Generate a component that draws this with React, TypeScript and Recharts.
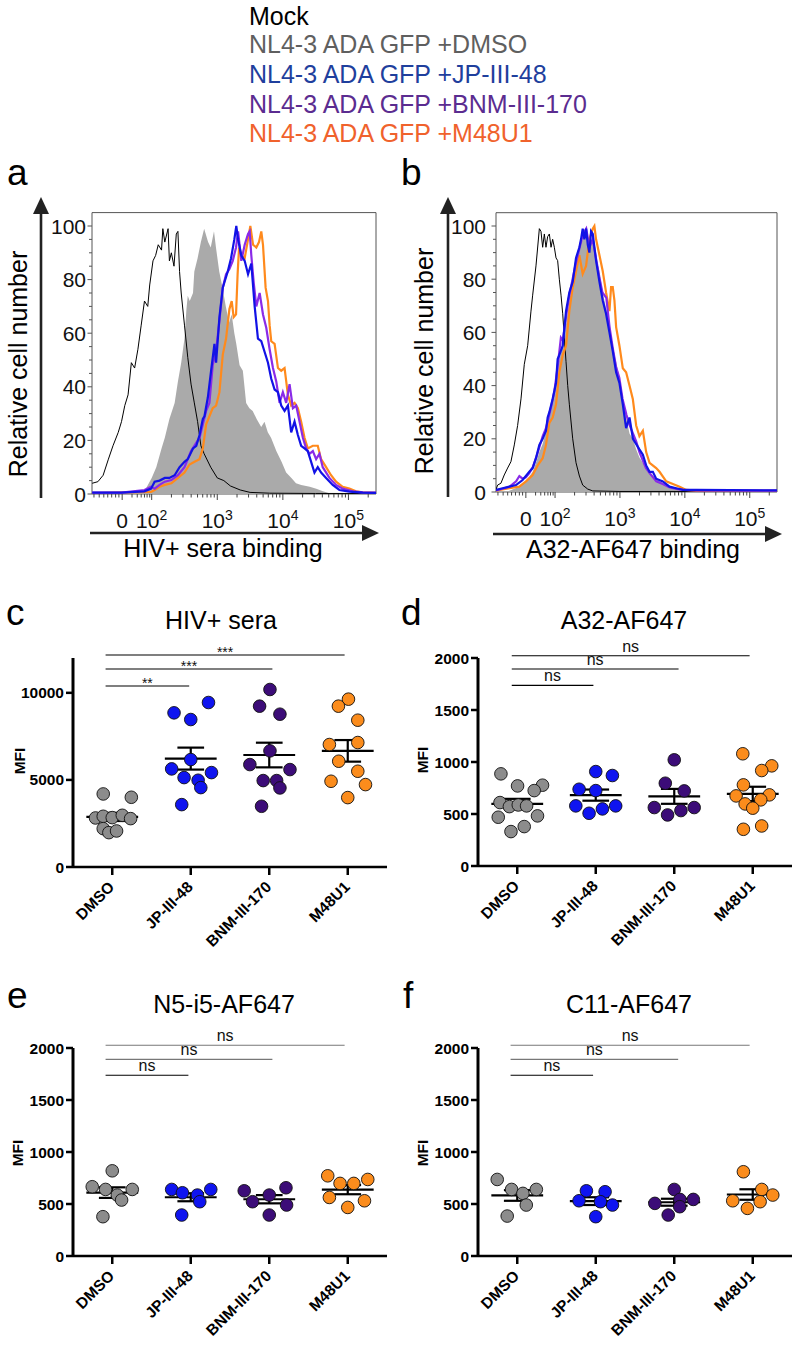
import React from 'react';
import {
  ComposedChart, Line, Area, XAxis, YAxis, ReferenceArea,
  ScatterChart, Scatter, ReferenceLine,
} from 'recharts';

const FONT = "'Liberation Sans', Arial, Helvetica, sans-serif";
type P = [number, number];

// ---------- legend ----------
const legendLabels = ['Mock', 'NL4-3 ADA GFP +DMSO', 'NL4-3 ADA GFP +JP-III-48', 'NL4-3 ADA GFP +BNM-III-170', 'NL4-3 ADA GFP +M48U1'];
const legendColors = ['#000000', '#5f5f5f', '#1f3f9d', '#5b2c90', '#f0622c'];

// ---------- histogram axes (biexponential display channel) ----------
const histYTicks = [0, 5, 10, 15, 20, 25, 30, 35, 40, 45, 50, 55, 60, 65, 70, 75, 80, 85, 90, 95, 100];
const histXMajor = [1.55, 2, 3, 4, 5];
const histXLabelBase = ['0', '10', '10', '10', '10'];
const histXLabelExp = ['', '2', '3', '4', '5'];
const histXMinor = [1.12, 1.2, 1.27, 1.33, 1.39, 1.45, 1.5, 1.7, 1.78, 1.84, 1.89, 1.93, 1.97,
  2.301, 2.477, 2.602, 2.699, 2.778, 2.845, 2.903, 2.954,
  3.301, 3.477, 3.602, 3.699, 3.778, 3.845, 3.903, 3.954,
  4.301, 4.477, 4.602, 4.699, 4.778, 4.845, 4.903, 4.954, 5.301];
const histDomain: [number, number] = [1.09, 5.42];

// ---------- panel a : HIV+ sera binding (x = display channel, v = % max) ----------
const mockA: P[] = [[1.093, 4], [1.18, 4.6], [1.26, 7], [1.34, 13], [1.41, 18], [1.49, 23], [1.54, 27], [1.59, 33], [1.64, 37], [1.69, 49], [1.74, 47], [1.79, 54], [1.84, 63], [1.89, 72], [1.94, 70], [1.97, 78], [2.02, 87], [2.06, 89], [2.1, 93], [2.15, 91], [2.17, 99], [2.2, 94], [2.25, 99], [2.27, 87], [2.3, 90], [2.34, 85], [2.375, 97], [2.4, 98], [2.425, 83], [2.45, 75], [2.5, 63], [2.55, 51], [2.6, 41], [2.65, 34], [2.7, 27], [2.75, 18], [2.8, 15], [2.9, 10], [3.0, 6], [3.1, 5], [3.2, 3], [3.35, 1.5], [3.5, 0.6], [3.8, 0.3], [4.5, 0.2], [5.42, 0.2]];
const dmsoA: P[] = [[1.09, 0], [1.75, 0], [1.85, 0.5], [1.9, 1.5], [2.0, 6], [2.07, 10], [2.15, 17], [2.2, 21], [2.27, 28], [2.35, 34], [2.4, 42], [2.45, 49], [2.5, 58], [2.53, 69], [2.55, 74], [2.58, 72], [2.63, 75], [2.65, 83], [2.7, 88], [2.75, 94], [2.8, 99], [2.86, 94], [2.9, 92], [2.95, 98], [2.98, 92], [3.03, 83], [3.08, 77], [3.13, 70], [3.18, 64], [3.22, 67], [3.26, 60], [3.29, 56], [3.34, 48], [3.39, 46], [3.44, 34], [3.49, 32], [3.54, 31], [3.6, 28], [3.67, 25], [3.72, 27], [3.77, 23], [3.82, 21], [3.9, 16], [3.98, 12], [4.05, 8], [4.13, 6], [4.2, 4], [4.28, 3.4], [4.41, 2.7], [4.51, 2], [4.61, 1], [4.71, 0.3], [5.0, 0], [5.42, 0]];
const jpA: P[] = [[1.093, 0.5], [1.54, 0.5], [1.89, 1], [1.99, 2], [2.045, 4.6], [2.12, 5], [2.2, 6], [2.27, 6], [2.35, 7], [2.425, 10], [2.5, 12], [2.55, 13], [2.63, 17], [2.68, 18], [2.73, 22], [2.78, 28], [2.805, 29], [2.856, 36], [2.906, 46], [2.957, 56], [2.982, 49], [3.033, 66], [3.084, 77], [3.109, 79], [3.16, 83], [3.21, 88], [3.26, 95], [3.29, 100], [3.317, 95], [3.367, 89], [3.418, 87], [3.469, 82], [3.519, 86], [3.57, 70], [3.62, 58], [3.671, 57], [3.722, 53], [3.773, 49], [3.823, 43], [3.874, 39], [3.925, 38], [3.975, 33], [4.026, 31], [4.077, 33], [4.127, 23], [4.178, 27], [4.229, 22], [4.279, 18], [4.33, 17], [4.38, 16], [4.431, 12], [4.482, 8], [4.532, 10], [4.583, 8], [4.659, 6], [4.76, 3.4], [4.862, 1.5], [5.014, 0.9], [5.216, 0.5], [5.42, 0.4]];
const bnmA: P[] = [[1.093, 0.5], [1.54, 0.5], [1.89, 1.5], [1.99, 2.7], [2.045, 2], [2.12, 3.4], [2.2, 4.6], [2.3, 5.2], [2.4, 7], [2.5, 10], [2.55, 13], [2.6, 16], [2.65, 18], [2.73, 21], [2.78, 26], [2.83, 31], [2.88, 34], [2.93, 48], [2.98, 53], [3.03, 64], [3.084, 77], [3.134, 82], [3.185, 84], [3.236, 87], [3.286, 92], [3.317, 98], [3.367, 87], [3.418, 93], [3.469, 97], [3.494, 98], [3.519, 89], [3.555, 79], [3.595, 70], [3.646, 75], [3.697, 67], [3.747, 62], [3.798, 54], [3.849, 47], [3.899, 42], [3.95, 34], [4.0, 38], [4.051, 34], [4.102, 41], [4.153, 32], [4.203, 33], [4.254, 27], [4.305, 21], [4.355, 17], [4.406, 15], [4.457, 16], [4.507, 13], [4.558, 15], [4.608, 10], [4.71, 6], [4.811, 3.4], [4.912, 2], [5.064, 1], [5.216, 0.6], [5.42, 0.5]];
const m48A: P[] = [[1.093, 0.3], [1.99, 0.8], [2.045, 1.5], [2.12, 2.7], [2.2, 3.4], [2.3, 4], [2.4, 6], [2.5, 8], [2.577, 11], [2.653, 12], [2.729, 13], [2.78, 17], [2.83, 26], [2.88, 29], [2.93, 32], [2.982, 33], [3.033, 38], [3.084, 52], [3.134, 58], [3.185, 69], [3.22, 72], [3.25, 66], [3.286, 67], [3.31, 82], [3.332, 92], [3.367, 89], [3.418, 88], [3.469, 95], [3.504, 100], [3.545, 93], [3.595, 92], [3.636, 94], [3.671, 98], [3.697, 93], [3.737, 77], [3.773, 72], [3.798, 63], [3.823, 57], [3.874, 56], [3.925, 47], [3.975, 46], [4.026, 47], [4.077, 37], [4.127, 33], [4.178, 34], [4.229, 32], [4.279, 27], [4.33, 21], [4.38, 17], [4.457, 18], [4.532, 18], [4.583, 13], [4.659, 10], [4.735, 7], [4.811, 4.6], [4.912, 2.7], [5.014, 2], [5.115, 1], [5.216, 0.6], [5.42, 0.4]];

// ---------- panel b : A32-AF647 binding ----------
const mockB: P[] = [[1.089, 0.8], [1.115, 2.6], [1.166, 3.3], [1.217, 6.4], [1.269, 9], [1.32, 11.4], [1.372, 17.7], [1.423, 25], [1.475, 35], [1.526, 48], [1.578, 55], [1.629, 68], [1.655, 74], [1.706, 85], [1.758, 99], [1.783, 98], [1.809, 92], [1.835, 97], [1.86, 92], [1.886, 96], [1.912, 97], [1.938, 92], [1.963, 95], [1.989, 92], [2.015, 88], [2.04, 87], [2.066, 80], [2.092, 74], [2.118, 67], [2.143, 58], [2.169, 49], [2.195, 40], [2.22, 33], [2.272, 20], [2.323, 11], [2.375, 6], [2.426, 2.6], [2.503, 1.1], [2.581, 0.4], [3.0, 0.2], [5.42, 0.2]];
const dmsoB: P[] = [[1.09, 0], [1.25, 0], [1.295, 0.5], [1.449, 2], [1.552, 4], [1.655, 7.6], [1.706, 11], [1.758, 15], [1.809, 18], [1.86, 23], [1.912, 30], [1.963, 35], [2.015, 41], [2.066, 50], [2.118, 55], [2.169, 63], [2.22, 72], [2.272, 79], [2.323, 87], [2.375, 92], [2.426, 95], [2.478, 99], [2.529, 93], [2.581, 95], [2.632, 88], [2.684, 83], [2.735, 75], [2.786, 69], [2.838, 64], [2.889, 55], [2.941, 49], [2.992, 43], [3.044, 35], [3.095, 28], [3.147, 22], [3.198, 20], [3.25, 16], [3.3, 13], [3.353, 11], [3.456, 7.6], [3.558, 5], [3.661, 3.3], [3.764, 2], [3.867, 1.1], [3.97, 0.5], [4.073, 0.1], [4.2, 0], [5.42, 0]];
const jpB: P[] = [[1.089, 0.8], [1.192, 1.4], [1.295, 2], [1.398, 2.6], [1.5, 4.5], [1.603, 7.6], [1.655, 9], [1.706, 12.7], [1.758, 17.7], [1.809, 20], [1.86, 23], [1.886, 28], [1.912, 30], [1.963, 35], [2.015, 41], [2.04, 50], [2.066, 51.5], [2.118, 55], [2.169, 68], [2.22, 75], [2.272, 79], [2.323, 88], [2.375, 92], [2.4, 95], [2.426, 99], [2.452, 95], [2.478, 99], [2.504, 93], [2.529, 90], [2.555, 98], [2.581, 97], [2.632, 87], [2.684, 79], [2.735, 72], [2.786, 67], [2.838, 60], [2.889, 53], [2.941, 45], [2.992, 41], [3.044, 33], [3.095, 24], [3.147, 28], [3.2, 20], [3.25, 18], [3.3, 16], [3.353, 14], [3.404, 10], [3.456, 7.6], [3.507, 7.6], [3.558, 5], [3.661, 4], [3.764, 2], [3.867, 1.4], [3.97, 0.8], [4.176, 0.8], [5.42, 0.6]];
const bnmB: P[] = [[1.089, 0.6], [1.19, 1.2], [1.3, 2], [1.4, 4], [1.45, 6], [1.5, 5], [1.55, 5.5], [1.6, 7], [1.66, 9.5], [1.71, 13], [1.76, 17], [1.81, 21], [1.86, 24], [1.89, 27], [1.94, 32], [1.99, 38], [2.04, 47], [2.09, 58], [2.12, 57], [2.17, 66], [2.22, 74], [2.27, 80], [2.32, 86], [2.37, 91], [2.43, 97], [2.48, 99], [2.53, 92], [2.58, 95], [2.63, 88], [2.68, 81], [2.73, 75], [2.79, 73], [2.84, 62], [2.89, 54], [2.94, 47], [2.99, 43], [3.04, 35], [3.1, 29], [3.15, 25], [3.2, 22], [3.25, 19], [3.3, 15], [3.35, 12], [3.4, 9], [3.46, 7], [3.51, 5.5], [3.56, 4], [3.66, 3], [3.76, 1.8], [3.87, 1.2], [3.97, 0.8], [4.2, 0.6], [5.42, 0.5]];
const m48B: P[] = [[1.089, 0.5], [1.295, 1.4], [1.449, 2], [1.552, 4], [1.655, 6.4], [1.732, 10], [1.809, 12.7], [1.86, 17.7], [1.912, 26], [1.963, 28], [2.015, 33], [2.066, 45], [2.118, 51.5], [2.169, 55], [2.22, 68], [2.272, 77], [2.323, 83], [2.375, 89], [2.426, 82], [2.478, 85], [2.529, 95], [2.581, 99], [2.606, 100], [2.632, 95], [2.684, 89], [2.735, 83], [2.786, 75], [2.838, 68], [2.863, 77], [2.889, 77], [2.915, 72], [2.941, 62], [2.992, 55], [3.044, 46.5], [3.095, 45], [3.147, 40], [3.198, 35], [3.25, 25], [3.3, 21], [3.353, 23], [3.404, 15], [3.456, 11], [3.558, 9], [3.61, 7.6], [3.713, 4], [3.816, 3], [3.919, 2], [4.021, 0.8], [4.176, 0.5], [5.42, 0.4]];

// ---------- dot plots: [MFI value, horizontal jitter in category units] ----------
const categories = ['DMSO', 'JP-III-48', 'BNM-III-170', 'M48U1'];
const dotColors = ['#8c8c8c', '#0f14f0', '#3c0c78', '#fb8c1c'];

const cDMSO: P[] = [[4195, -0.115], [4004, 0.243], [2816, -0.213], [2912, -0.115], [2835, 0], [2969, 0.128], [2778, 0.234], [2203, -0.115], [1973, -0.043], [2069, 0.055]];
const cJP: P[] = [[8851, -0.213], [9444, 0.226], [8467, 0], [6169, 0], [5632, -0.243], [5421, 0.264], [5134, -0.085], [4981, 0.094], [4559, 0.128], [3582, -0.115]];
const cBNM: P[] = [[10192, 0.009], [9234, -0.123], [8774, 0.136], [6667, 0.009], [5881, -0.247], [5594, 0.264], [4962, -0.077], [4962, 0.094], [4540, 0.136], [3487, -0.098]];
const cM48: P[] = [[9636, 0.009], [9234, -0.119], [8429, 0.128], [7031, -0.234], [7146, 0.128], [6073, -0.115], [5498, 0.128], [4923, -0.213], [4732, 0.226], [3985, 0]];

const dDMSO: P[] = [[886, -0.208], [770, 0.004], [777, 0.322], [725, 0.216], [610, -0.22], [571, -0.1], [587, 0.013], [578, 0.119], [469, -0.242], [482, 0.258], [379, 0.089], [331, -0.08]];
const dJP: P[] = [[908, 0], [870, 0.212], [738, -0.212], [725, 0], [578, -0.254], [578, 0.254], [507, -0.085], [549, 0.085]];
const dBNM: P[] = [[1021, 0], [796, -0.114], [722, 0.127], [562, -0.254], [562, 0.254], [533, 0.085], [491, -0.085]];
const dM48: P[] = [[1079, -0.127], [963, 0.242], [918, 0.114], [780, -0.119], [674, -0.212], [684, 0.212], [636, 0.102], [597, -0.097], [556, 0], [353, -0.119], [385, 0.114]];

const eDMSO: P[] = [[819, 0], [666, -0.255], [640, -0.085], [640, 0.255], [586, 0.064], [538, 0.119], [378, -0.119]];
const eJP: P[] = [[640, -0.243], [608, -0.106], [640, 0.255], [586, 0.085], [522, 0.115], [394, -0.115]];
const eBNM: P[] = [[627, -0.319], [522, -0.213], [586, 0], [656, 0.213], [490, 0.221], [394, 0]];
const eM48: P[] = [[771, -0.255], [698, -0.098], [698, 0.077], [736, 0.255], [563, -0.234], [531, 0.213], [467, 0]];

const fDMSO: P[] = [[736, -0.255], [640, -0.072], [602, 0.072], [640, 0.243], [490, 0.115], [384, -0.128]];
const fJP: P[] = [[627, -0.119], [618, 0.119], [531, -0.213], [490, 0.213], [522, 0.06], [378, 0]];
const fBNM: P[] = [[640, 0], [506, -0.247], [544, 0.072], [544, 0.243], [394, -0.077], [474, 0.07]];
const fM48: P[] = [[810, -0.119], [640, 0.115], [586, 0.255], [531, -0.255], [458, -0.068], [522, 0.094]];

// significance brackets
const cSigLevels = [10393, 11369, 12173];
const cSigEnds = [0.98, 2.04, 2.96];
const cSigLabels = ['**', '***', '***'];
const dSigLevels = [1737, 1894, 2022];
const dSigEnds = [0.97, 2.055, 2.96];
const efSigLevels = [1738, 1891, 2026];
const eSigEnds = [0.97, 2.04, 2.96];
const fSigEnds = [0.966, 2.05, 2.96];
const nsLabels = ['ns', 'ns', 'ns'];

// ---------- helpers ----------
const toPts = (a: P[]) => a.map(([t, v]) => ({ t, v }));
const meanSem = (g: P[]) => {
  const n = g.length;
  const m = g.reduce((s, [v]) => s + v, 0) / n;
  const sd = Math.sqrt(g.reduce((s, [v]) => s + (v - m) * (v - m), 0) / (n - 1));
  return { m, s: sd / Math.sqrt(n) };
};

const renderHistXTick = (p: any) => {
  const v = p.payload.value;
  const idx = histXMajor.indexOf(v);
  const major = idx >= 0;
  return (
    <g>
      <line x1={p.x} x2={p.x} y1={p.y} y2={p.y + (major ? 6 : 3.5)} stroke="#444" strokeWidth={1} />
      {major && (
        <text x={p.x} y={p.y + 34} textAnchor="middle" fontSize={21} fontFamily={FONT} fill="#111">
          {histXLabelBase[idx]}
          {histXLabelExp[idx] && <tspan dy={-8} fontSize={14}>{histXLabelExp[idx]}</tspan>}
        </text>
      )}
    </g>
  );
};

const makeHistYTick = (gap: number) => (p: any) => {
  const v = p.payload.value;
  const major = v % 20 === 0;
  return (
    <g>
      <line x1={p.x - (major ? 4.5 : 3)} x2={p.x} y1={p.y} y2={p.y} stroke="#555" strokeWidth={1} />
      {major && (
        <text x={p.x - gap} y={p.y} dy={7.5} textAnchor="end" fontSize={21} fontFamily={FONT} fill="#111">{v}</text>
      )}
    </g>
  );
};

const renderCatTick = (p: any) => (
  <g>
    <line x1={p.x} x2={p.x} y1={p.y} y2={p.y + 8} stroke="#000" strokeWidth={2.5} />
    <text transform={`translate(${p.x + 3},${p.y + 21}) rotate(-45)`} textAnchor="end" fontSize={15.5}
      fontWeight={700} fontFamily={FONT} fill="#000">{categories[p.payload.value]}</text>
  </g>
);

function Histogram(props: any) {
  const { left, top, width, height, margin, yWidth, gap, mock, gray, jp, bnm, m48 } = props;
  const allTicks = [...histXMajor, ...histXMinor].sort((a, b) => a - b);
  return (
    <div style={{ position: 'absolute', left, top, width, height }}>
      <ComposedChart width={width} height={height} margin={margin}>
        <XAxis type="number" dataKey="t" domain={histDomain} allowDataOverflow ticks={allTicks} interval={0}
          tickLine={false} tickSize={0} tickMargin={0} axisLine={false} height={40} tick={renderHistXTick} />
        <YAxis type="number" dataKey="v" domain={[0, 105]} allowDataOverflow ticks={histYTicks} interval={0}
          tickLine={false} tickSize={0} tickMargin={0} axisLine={false} width={yWidth} tick={makeHistYTick(gap)} />
        <ReferenceArea x1={histDomain[0]} x2={histDomain[1]} y1={0} y2={105} fill="none" stroke="#555"
          strokeWidth={1} ifOverflow="visible" />
        <Area data={toPts(gray)} dataKey="v" type="linear" fill="#aaaaaa" fillOpacity={1} stroke="none"
          isAnimationActive={false} dot={false} activeDot={false} />
        <Line data={toPts(mock)} dataKey="v" type="linear" stroke="#000" strokeWidth={1} dot={false}
          activeDot={false} isAnimationActive={false} />
        <Line data={toPts(m48)} dataKey="v" type="linear" stroke="#ff8a1c" strokeWidth={2.2} dot={false}
          activeDot={false} isAnimationActive={false} />
        <Line data={toPts(bnm)} dataKey="v" type="linear" stroke="#8a2be8" strokeWidth={2.2} dot={false}
          activeDot={false} isAnimationActive={false} />
        <Line data={toPts(jp)} dataKey="v" type="linear" stroke="#1212e6" strokeWidth={2.2} dot={false}
          activeDot={false} isAnimationActive={false} />
      </ComposedChart>
    </div>
  );
}

function DotPanel(props: any) {
  const { left, top, width, height, margin, yWidth, yMax, yTicks, groups, sigLevels, sigStart, sigEnds,
    sigLabels, sigColors, sigFont, sigOffset } = props;
  const stats = groups.map((g: P[]) => meanSem(g));
  return (
    <div style={{ position: 'absolute', left, top, width, height }}>
      <ScatterChart width={width} height={height} margin={margin}>
        <XAxis type="number" dataKey="x" domain={[-0.5, 3.5]} ticks={[0, 1, 2, 3]} interval={0} allowDataOverflow
          height={60} axisLine={{ stroke: '#000', strokeWidth: 2.5 }} tickLine={false} tickSize={0} tickMargin={0}
          tick={renderCatTick} />
        <YAxis type="number" dataKey="y" domain={[0, yMax]} ticks={yTicks} interval={0} allowDataOverflow
          width={yWidth} axisLine={{ stroke: '#000', strokeWidth: 3 }} tickLine={{ stroke: '#000', strokeWidth: 2.5 }}
          tickSize={7} tickMargin={2} tick={{ fontSize: 15.5, fontWeight: 700, fill: '#000', fontFamily: FONT }} />
        {groups.map((g: P[], i: number) => (
          <Scatter key={`s${i}`} data={g.map(([v, dx]) => ({ x: i + dx, y: v }))} fill={dotColors[i]}
            isAnimationActive={false}
            shape={(p: any) => <circle cx={p.cx} cy={p.cy} r={6.3} fill={dotColors[i]} stroke="#111" strokeWidth={0.9} />} />
        ))}
        {stats.map((st: any, i: number) => [
          <ReferenceLine key={`m${i}`} segment={[{ x: i - 0.33, y: st.m }, { x: i + 0.33, y: st.m }]} stroke="#000" strokeWidth={2.2} ifOverflow="visible" />,
          <ReferenceLine key={`v${i}`} segment={[{ x: i, y: st.m - st.s }, { x: i, y: st.m + st.s }]} stroke="#000" strokeWidth={2.2} ifOverflow="visible" />,
          <ReferenceLine key={`u${i}`} segment={[{ x: i - 0.17, y: st.m + st.s }, { x: i + 0.17, y: st.m + st.s }]} stroke="#000" strokeWidth={2.2} ifOverflow="visible" />,
          <ReferenceLine key={`l${i}`} segment={[{ x: i - 0.17, y: st.m - st.s }, { x: i + 0.17, y: st.m - st.s }]} stroke="#000" strokeWidth={2.2} ifOverflow="visible" />,
        ])}
        {sigLevels.map((lv: number, k: number) => (
          <ReferenceLine key={`g${k}`} segment={[{ x: sigStart, y: lv }, { x: sigEnds[k], y: lv }]}
            stroke={sigColors[k]} strokeWidth={1.1} ifOverflow="visible"
            label={{ value: sigLabels[k], position: 'top', offset: sigOffset, fontSize: sigFont, fill: '#111', fontFamily: FONT }} />
        ))}
      </ScatterChart>
    </div>
  );
}

function Arrow({ x1, y1, x2, y2 }: { x1: number; y1: number; x2: number; y2: number }) {
  const horiz = y1 === y2;
  const pts = horiz
    ? `${x2},${y2} ${x2 - 17},${y2 - 8} ${x2 - 17},${y2 + 8}`
    : `${x2},${y2} ${x2 - 8},${y2 + 17} ${x2 + 8},${y2 + 17}`;
  const lx2 = horiz ? x2 - 12 : x2;
  const ly2 = horiz ? y2 : y2 + 12;
  return (
    <g>
      <line x1={x1} y1={y1} x2={lx2} y2={ly2} stroke="#222" strokeWidth={2.6} />
      <polygon points={pts} fill="#222" />
    </g>
  );
}

export default function App() {
  const txt = { fontFamily: FONT, fill: '#000' } as const;
  return (
    <div style={{ position: 'absolute', left: 0, top: 0, width: 794, height: 1350, background: '#fff' }}>
      <svg width={794} height={1350} style={{ position: 'absolute', left: 0, top: 0 }}>
        {legendLabels.map((l, i) => (
          <text key={l} x={249} y={[25, 53, 83, 113, 142][i]} fontSize={25} fontFamily={FONT} fill={legendColors[i]}>{l}</text>
        ))}
        {/* panel letters */}
        <text x={7} y={185} fontSize={37} {...txt}>a</text>
        <text x={401} y={185} fontSize={37} {...txt}>b</text>
        <text x={6} y={625} fontSize={37} {...txt}>c</text>
        <text x={401} y={625} fontSize={37} {...txt}>d</text>
        <text x={7} y={1008} fontSize={37} {...txt}>e</text>
        <text x={403} y={1008} fontSize={37} {...txt}>f</text>
        {/* histogram axes decorations */}
        <Arrow x1={41} y1={498} x2={41} y2={197} />
        <Arrow x1={90} y1={533} x2={379} y2={533} />
        <Arrow x1={448} y1={497} x2={448} y2={197} />
        <Arrow x1={493} y1={534} x2={782} y2={534} />
        <text transform="translate(27,364) rotate(-90)" textAnchor="middle" fontSize={25} {...txt}>Relative cell number</text>
        <text transform="translate(433,361) rotate(-90)" textAnchor="middle" fontSize={25} {...txt}>Relative cell number</text>
        <text x={223} y={557} textAnchor="middle" fontSize={25} {...txt}>HIV+ sera binding</text>
        <text x={633} y={558} textAnchor="middle" fontSize={25} {...txt}>A32-AF647 binding</text>
        {/* dot plot titles */}
        <text x={221} y={629} textAnchor="middle" fontSize={25} {...txt}>HIV+ sera</text>
        <text x={624} y={629} textAnchor="middle" fontSize={25} {...txt}>A32-AF647</text>
        <text x={224} y={1013} textAnchor="middle" fontSize={25} {...txt}>N5-i5-AF647</text>
        <text x={629} y={1013} textAnchor="middle" fontSize={25} {...txt}>C11-AF647</text>
        <text transform="translate(25,761) rotate(-90)" textAnchor="middle" fontSize={15.5} fontWeight={700} {...txt}>MFI</text>
        <text transform="translate(428,760) rotate(-90)" textAnchor="middle" fontSize={15.5} fontWeight={700} {...txt}>MFI</text>
        <text transform="translate(23,1153) rotate(-90)" textAnchor="middle" fontSize={15.5} fontWeight={700} {...txt}>MFI</text>
        <text transform="translate(428,1153) rotate(-90)" textAnchor="middle" fontSize={15.5} fontWeight={700} {...txt}>MFI</text>
      </svg>

      <Histogram left={0} top={190} width={400} height={370} margin={{ top: 22.6, right: 24, bottom: 26, left: 0 }}
        yWidth={92} gap={6} mock={mockA} gray={dmsoA} jp={jpA} bnm={bnmA} m48={m48A} />
      <Histogram left={400} top={190} width={394} height={370} margin={{ top: 22.7, right: 17, bottom: 28, left: 0 }}
        yWidth={96} gap={10} mock={mockB} gray={dmsoB} jp={jpB} bnm={bnmB} m48={m48B} />

      <DotPanel left={0} top={600} width={400} height={350} margin={{ top: 58, right: 13, bottom: 23, left: 0 }}
        yWidth={73} yMax={12000} yTicks={[0, 5000, 10000]} groups={[cDMSO, cJP, cBNM, cM48]}
        sigLevels={cSigLevels} sigStart={-0.085} sigEnds={cSigEnds} sigLabels={cSigLabels}
        sigColors={['#000', '#000', '#000']} sigFont={14} sigOffset={-2} />
      <DotPanel left={400} top={600} width={394} height={350} margin={{ top: 58, right: 2, bottom: 24, left: 0 }}
        yWidth={78} yMax={2000} yTicks={[0, 500, 1000, 1500, 2000]} groups={[dDMSO, dJP, dBNM, dM48]}
        sigLevels={dSigLevels} sigStart={-0.07} sigEnds={dSigEnds} sigLabels={nsLabels}
        sigColors={['#000', '#000', '#000']} sigFont={16} sigOffset={4} />
      <DotPanel left={0} top={980} width={400} height={370} margin={{ top: 68, right: 13, bottom: 34, left: 0 }}
        yWidth={73} yMax={2000} yTicks={[0, 500, 1000, 1500, 2000]} groups={[eDMSO, eJP, eBNM, eM48]}
        sigLevels={efSigLevels} sigStart={-0.085} sigEnds={eSigEnds} sigLabels={nsLabels}
        sigColors={['#000', '#777', '#777']} sigFont={16} sigOffset={4} />
      <DotPanel left={400} top={980} width={394} height={370} margin={{ top: 68, right: 2, bottom: 34, left: 0 }}
        yWidth={78} yMax={2000} yTicks={[0, 500, 1000, 1500, 2000]} groups={[fDMSO, fJP, fBNM, fM48]}
        sigLevels={efSigLevels} sigStart={-0.085} sigEnds={fSigEnds} sigLabels={nsLabels}
        sigColors={['#000', '#777', '#777']} sigFont={16} sigOffset={4} />
    </div>
  );
}
